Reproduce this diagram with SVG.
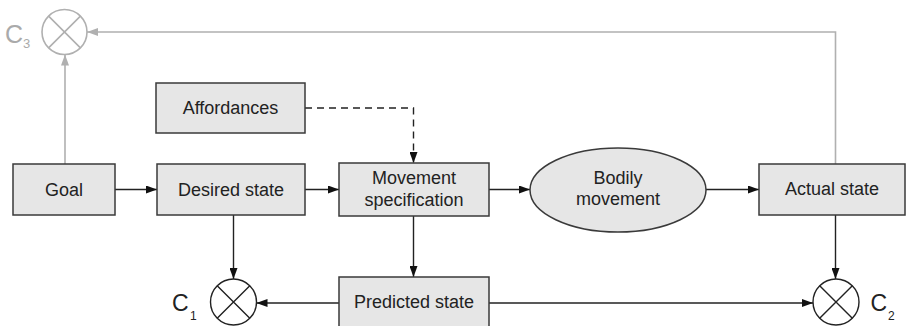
<svg xmlns="http://www.w3.org/2000/svg" width="906" height="326" viewBox="0 0 906 326">
<defs>
<style>
.box{fill:#e6e6e6;stroke:#3a3a3a;stroke-width:1.5}
.lbl{font-family:"Liberation Sans",Arial,sans-serif;font-size:18px;fill:#222;text-anchor:middle}
.c{font-family:"Liberation Sans",Arial,sans-serif;fill:#222}
.cg{font-family:"Liberation Sans",Arial,sans-serif;fill:#aaa}
.ln{fill:none;stroke:#222;stroke-width:1.4}
.gl{fill:none;stroke:#b0b0b0;stroke-width:1.6}
.dash{fill:none;stroke:#222;stroke-width:1.4;stroke-dasharray:7 5}
.sum{fill:#fff;stroke:#222;stroke-width:1.4}
.sumg{fill:#fff;stroke:#b0b0b0;stroke-width:1.6}
</style>
<marker id="ah" markerUnits="userSpaceOnUse" markerWidth="11" markerHeight="8" refX="11" refY="4" orient="auto">
<path d="M0,0 L11,4 L0,8 z" fill="#111"/>
</marker>
<marker id="ahg" markerUnits="userSpaceOnUse" markerWidth="11" markerHeight="8" refX="11" refY="4" orient="auto">
<path d="M0,0 L11,4 L0,8 z" fill="#b0b0b0"/>
</marker>
</defs>
<rect width="906" height="326" fill="#fff"/>
<g id="connectors">
<path class="gl" d="M65,164 V54.5" marker-end="url(#ahg)"/>
<path class="gl" d="M835.5,164 V32 H87" marker-end="url(#ahg)"/>
<path class="ln" d="M115,189.5 H157" marker-end="url(#ah)"/>
<path class="ln" d="M305,189.5 H339" marker-end="url(#ah)"/>
<path class="ln" d="M489,189.5 H530" marker-end="url(#ah)"/>
<path class="ln" d="M706,189.5 H759" marker-end="url(#ah)"/>
<path class="dash" d="M305,108 H413.5 V163" marker-end="url(#ah)"/>
<path class="ln" d="M233.5,215 V279" marker-end="url(#ah)"/>
<path class="ln" d="M413.5,216 V277" marker-end="url(#ah)"/>
<path class="ln" d="M339,303 H256.5" marker-end="url(#ah)"/>
<path class="ln" d="M489,303 H813" marker-end="url(#ah)"/>
<path class="ln" d="M835.5,215 V279" marker-end="url(#ah)"/>
</g>
<g id="c3">
<circle class="sumg" cx="64.5" cy="32" r="22.5"/>
<path class="gl" d="M48.6,16.1 L80.4,47.9 M80.4,16.1 L48.6,47.9"/>
<text class="cg" x="5" y="42.5" font-size="25">C</text>
<text class="cg" x="23" y="47.5" font-size="13">3</text>
</g>
<g id="goal">
<rect class="box" x="13" y="164" width="102" height="51"/>
<text class="lbl" x="64" y="195.5">Goal</text>
</g>
<g id="desired">
<rect class="box" x="157" y="164" width="148" height="51"/>
<text class="lbl" x="231" y="195.5">Desired state</text>
</g>
<g id="affordances">
<rect class="box" x="156" y="83" width="149" height="50"/>
<text class="lbl" x="230.5" y="114">Affordances</text>
</g>
<g id="movement">
<rect class="box" x="339" y="163" width="150" height="53"/>
<text class="lbl" x="414" y="184">Movement</text>
<text class="lbl" x="414" y="206">specification</text>
</g>
<g id="bodily">
<ellipse class="box" cx="618" cy="190" rx="88" ry="42"/>
<text class="lbl" x="618" y="184">Bodily</text>
<text class="lbl" x="618" y="205">movement</text>
</g>
<g id="actual">
<rect class="box" x="759" y="164" width="146" height="51"/>
<text class="lbl" x="832" y="195">Actual state</text>
</g>
<g id="predicted">
<rect class="box" x="339" y="277" width="150" height="60"/>
<text class="lbl" x="414" y="307.5">Predicted state</text>
</g>
<g id="c1">
<circle class="sum" cx="233.5" cy="302" r="23"/>
<path class="ln" d="M217.2,285.7 L249.8,318.3 M249.8,285.7 L217.2,318.3"/>
<text class="c" x="172" y="310.5" font-size="23">C</text>
<text class="c" x="190" y="319.5" font-size="12">1</text>
</g>
<g id="c2">
<circle class="sum" cx="836" cy="302" r="23"/>
<path class="ln" d="M819.7,285.7 L852.3,318.3 M852.3,285.7 L819.7,318.3"/>
<text class="c" x="870.5" y="310.5" font-size="23">C</text>
<text class="c" x="888" y="319.5" font-size="12">2</text>
</g>
</svg>
